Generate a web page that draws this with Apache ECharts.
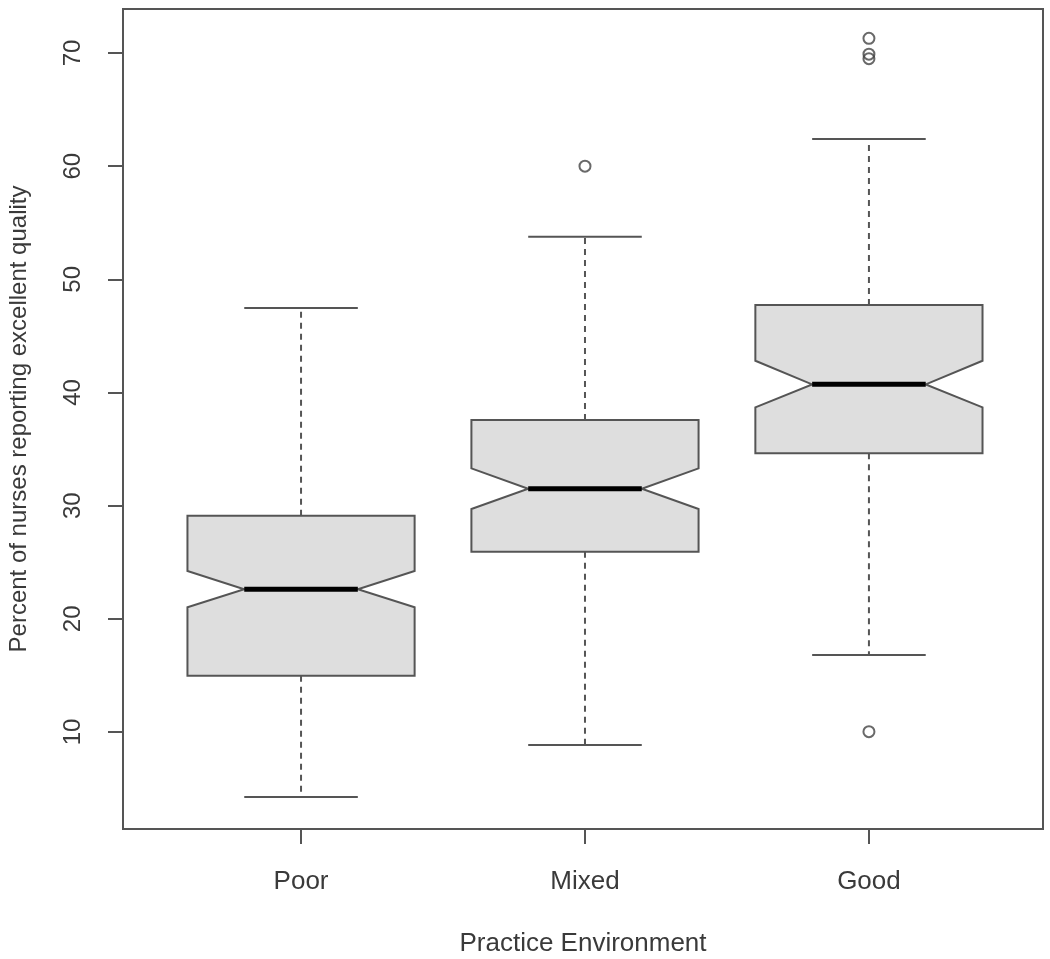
<!DOCTYPE html>
<html>
<head>
<meta charset="utf-8">
<style>
  html, body { margin: 0; padding: 0; background: #fff; }
  #main { width: 1050px; height: 959px; }
</style>
<script src="https://cdn.jsdelivr.net/npm/echarts@6.0.0/dist/echarts.min.js"></script>
</head>
<body>
<div id="main"></div>
<script>
// box statistics (percent)
var categories  = ['Poor', 'Mixed', 'Good'];
var whiskerLow  = [4.26, 8.85, 16.81];
var q1          = [14.98, 25.93, 34.63];
var notchLow    = [21.02, 29.71, 38.69];
var median      = [22.61, 31.50, 40.72];
var notchHigh   = [24.23, 33.30, 42.81];
var q3          = [29.12, 37.57, 47.73];
var whiskerHigh = [47.47, 53.77, 62.40];

var outlierGroup = [2, 3, 3, 3, 3];
var outlierValue = [60.0, 71.3, 69.9, 69.5, 10.03];

var xTicks = [1, 2, 3];
var yTicks = [10, 20, 30, 40, 50, 60, 70];

var boxData = [];
for (var i = 0; i < categories.length; i++) {
    boxData.push([i + 1, whiskerLow[i], q1[i], notchLow[i], median[i], notchHigh[i], q3[i], whiskerHigh[i]]);
}
var outlierData = [];
for (var j = 0; j < outlierGroup.length; j++) {
    outlierData.push([outlierGroup[j], outlierValue[j]]);
}

var lineColor = '#555';
var textColor = '#3a3a3a';
var halfBox = 0.4;

function renderBox(params, api) {
    var x = api.value(0);
    var pt = function (dx, v) { return api.coord([x + dx, v]); };
    var wlo = api.value(1), lo = api.value(2), nlo = api.value(3), med = api.value(4),
        nhi = api.value(5), hi = api.value(6), whi = api.value(7);
    var w = halfBox, s = halfBox / 2;
    var dashed = { stroke: lineColor, lineWidth: 2, lineDash: [6, 5] };
    var solid = { stroke: lineColor, lineWidth: 2 };
    var a, b;
    var children = [];
    a = pt(0, hi); b = pt(0, whi);
    children.push({ type: 'line', shape: { x1: a[0], y1: a[1], x2: b[0], y2: b[1] }, style: dashed });
    a = pt(0, lo); b = pt(0, wlo);
    children.push({ type: 'line', shape: { x1: a[0], y1: a[1], x2: b[0], y2: b[1] }, style: dashed });
    a = pt(-s, whi); b = pt(s, whi);
    children.push({ type: 'line', shape: { x1: a[0], y1: a[1], x2: b[0], y2: b[1] }, style: solid });
    a = pt(-s, wlo); b = pt(s, wlo);
    children.push({ type: 'line', shape: { x1: a[0], y1: a[1], x2: b[0], y2: b[1] }, style: solid });
    children.push({
        type: 'polygon',
        shape: {
            points: [
                pt(-w, lo), pt(w, lo), pt(w, nlo), pt(w / 2, med), pt(w, nhi),
                pt(w, hi), pt(-w, hi), pt(-w, nhi), pt(-w / 2, med), pt(-w, nlo)
            ]
        },
        style: { fill: '#dedede', stroke: lineColor, lineWidth: 2 }
    });
    a = pt(-w / 2, med); b = pt(w / 2, med);
    children.push({ type: 'line', shape: { x1: a[0], y1: a[1], x2: b[0], y2: b[1] }, style: { stroke: '#000', lineWidth: 5 } });
    return { type: 'group', children: children };
}

var option = {
    backgroundColor: '#fff',
    animation: false,
    grid: {
        show: true,
        left: 123,
        top: 9,
        width: 920,
        height: 820,
        outerBoundsMode: 'none',
        containLabel: false,
        borderColor: lineColor,
        borderWidth: 2,
        backgroundColor: 'transparent'
    },
    xAxis: {
        type: 'value',
        min: 0.373,
        max: 3.613,
        name: 'Practice Environment',
        nameLocation: 'middle',
        nameGap: 102,
        nameTextStyle: { color: textColor, fontSize: 26, fontFamily: 'Liberation Sans' },
        axisLine: { show: true, onZero: false, lineStyle: { color: lineColor, width: 2 } },
        axisTick: { show: true, length: 15, customValues: xTicks, lineStyle: { color: lineColor, width: 2 } },
        axisLabel: {
            customValues: xTicks,
            margin: 40,
            color: textColor,
            fontSize: 26,
            fontFamily: 'Liberation Sans',
            formatter: function (v) { return categories[Math.round(v) - 1] || ''; }
        },
        splitLine: { show: false }
    },
    yAxis: {
        type: 'value',
        min: 1.43,
        max: 73.89,
        name: 'Percent of nurses reporting excellent quality',
        nameLocation: 'middle',
        nameRotate: 90,
        nameGap: 92,
        nameTextStyle: { color: textColor, fontSize: 24, fontFamily: 'Liberation Sans' },
        axisLine: { show: true, onZero: false, lineStyle: { color: lineColor, width: 2 } },
        axisTick: { show: true, length: 15, customValues: yTicks, lineStyle: { color: lineColor, width: 2 } },
        axisLabel: {
            customValues: yTicks,
            rotate: 90,
            margin: 38,
            color: textColor,
            fontSize: 24,
            fontFamily: 'Liberation Sans'
        },
        splitLine: { show: false }
    },
    series: [
        {
            type: 'custom',
            renderItem: renderBox,
            clip: false,
            encode: { x: 0, y: [1, 2, 3, 4, 5, 6, 7] },
            data: boxData
        },
        {
            type: 'scatter',
            symbol: 'circle',
            symbolSize: 11,
            itemStyle: { color: 'rgba(0,0,0,0)', borderColor: '#444', borderWidth: 2 },
            data: outlierData
        }
    ]
};

var myChart = echarts.init(document.getElementById('main'));
myChart.setOption(option);
</script>
</body>
</html>
